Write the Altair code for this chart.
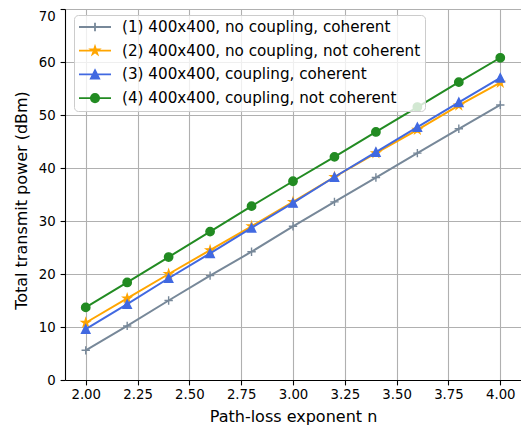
import math
import altair as alt
import pandas as pd

# ---- data ----
n_values = [2.0, 2.2, 2.4, 2.6, 2.8, 3.0, 3.2, 3.4, 3.6, 3.8, 4.0]
series_names = [
    "(1) 400x400, no coupling, coherent",
    "(2) 400x400, no coupling, not coherent",
    "(3) 400x400, coupling, coherent",
    "(4) 400x400, coupling, not coherent",
]
s1 = [5.6, 10.2, 15.0, 19.7, 24.2, 29.0, 33.6, 38.2, 42.8, 47.4, 51.9]
s2 = [10.8, 15.4, 20.0, 24.5, 29.0, 33.6, 38.3, 42.8, 47.2, 51.8, 56.1]
s3 = [9.6, 14.3, 19.2, 23.9, 28.7, 33.4, 38.3, 43.0, 47.7, 52.4, 57.0]
s4 = [13.7, 18.4, 23.2, 28.0, 32.8, 37.5, 42.1, 46.8, 51.5, 56.2, 60.8]
series_values = [s1, s2, s3, s4]
x_ticks = [2.0, 2.25, 2.5, 2.75, 3.0, 3.25, 3.5, 3.75, 4.0]
y_ticks = [0, 10, 20, 30, 40, 50, 60, 70]

# ---- styles ----
colors = ["#778899", "#FFA500", "#4169E1", "#228B22"]
FONT = "DejaVu Sans"


def star(scale):
    pts = []
    for k in range(10):
        a = math.radians(-90 + 36 * k)
        r = scale if k % 2 == 0 else scale * 0.381966
        pts.append(f"{r * math.cos(a):.4f},{r * math.sin(a):.4f}")
    return "M" + "L".join(pts) + "Z"


def plus(m):
    return f"M-{m},0H{m}M0,-{m}V{m}"


def tri(m):
    return f"M0,-{m}L{m},{m}L-{m},{m}Z"


def circ(m):
    return f"M{m},0A{m},{m},0,1,1,-{m},0A{m},{m},0,1,1,{m},0Z"


marker_paths = [plus(1), star(1), tri(1), circ(1)]
m = 0.26
legend_paths = ["M-1,0H1" + f(m) for f in (lambda s: f"M0,-{s}V{s}", star, tri, circ)]

idx = "indexof([" + ",".join(f"'{s}'" for s in series_names) + "], datum.value)"
shape_expr = "[" + ",".join(f"'{p}'" for p in legend_paths) + "][" + idx + "]"
color_expr = "[" + ",".join(f"'{c}'" for c in colors) + "][" + idx + "]"

legend = alt.Legend(
    title=None,
    orient="none",
    legendX=9,
    legendY=6,
    padding=4,
    symbolSize=1024,
    symbolStrokeWidth=1.8,
    symbolType={"expr": shape_expr},
    symbolFillColor={"expr": color_expr},
    symbolStrokeColor={"expr": color_expr},
    symbolOpacity=1,
    clipHeight=16,
    rowPadding=6.7,
    labelOffset=10,
    labelFont=FONT,
    labelFontSize=15.2,
    labelColor="black",
    labelLimit=600,
    fillColor="rgba(255,255,255,0.8)",
    strokeColor="#cccccc",
    cornerRadius=4,
)

xscale = alt.Scale(domain=[1.9, 4.1], nice=False, zero=False)
yscale = alt.Scale(domain=[0, 70], nice=False)
cscale = alt.Scale(domain=series_names, range=colors)

xaxis = alt.Axis(
    values=x_ticks, format=".2f", title="Path-loss exponent n",
    titleFontSize=16, titleFontWeight="normal", titleFont=FONT, titleColor="black",
    titleBaseline="alphabetic", titleY=41,
    labelFont=FONT, labelFontSize=13.3, labelColor="black", labelPadding=3,
    labelFlush=False, labelOverlap=False,
    tickSize=4.9, tickWidth=1.1, tickColor="black",
    domainColor="black", domainWidth=1.1,
    grid=True, gridColor="#b0b0b0", gridWidth=1.1,
)
yaxis = alt.Axis(
    values=y_ticks, title="Total transmit power (dBm)",
    titleFontSize=16, titleFontWeight="normal", titleFont=FONT, titleColor="black",
    titleBaseline="alphabetic", titleAlign="center", titleX=-38.4, titleY=191,
    labelFont=FONT, labelFontSize=13.3, labelColor="black", labelPadding=5,
    labelFlush=False, labelOverlap=False,
    labelBaseline=alt.condition("datum.value == 70", alt.value("top"), alt.value("middle")),
    tickSize=4.9, tickWidth=1.1, tickColor="black",
    domainColor="black", domainWidth=1.1,
    grid=True, gridColor="#b0b0b0", gridWidth=1.1,
)

layers = []
for i, (name, vals) in enumerate(zip(series_names, series_values)):
    df = pd.DataFrame({"n": n_values, "power": vals, "series": [name] * len(vals)})
    enc = dict(
        x=alt.X("n:Q", scale=xscale, axis=xaxis),
        y=alt.Y("power:Q", scale=yscale, axis=yaxis),
        color=alt.Color("series:N", scale=cscale, legend=legend),
    )
    line = alt.Chart(df).mark_line(strokeWidth=2).encode(**enc)
    pts = alt.Chart(df).mark_point(
        filled=True, shape=marker_paths[i], size=70, strokeWidth=1.4,
        stroke=colors[i], opacity=1,
    ).encode(**enc)
    layers += [line, pts]

chart = (
    alt.layer(*layers)
    .properties(
        width=456,
        height=371,
        autosize=alt.AutoSizeParams(type="none"),
        padding={"left": 57, "top": 1, "right": 0, "bottom": 45},
    )
    .configure_view(stroke="black", strokeWidth=1.1)
    .configure_legend(strokeWidth=1)
    .configure(font=FONT)
)

chart.save("out.html", embed_options={"renderer": "svg", "actions": False})
